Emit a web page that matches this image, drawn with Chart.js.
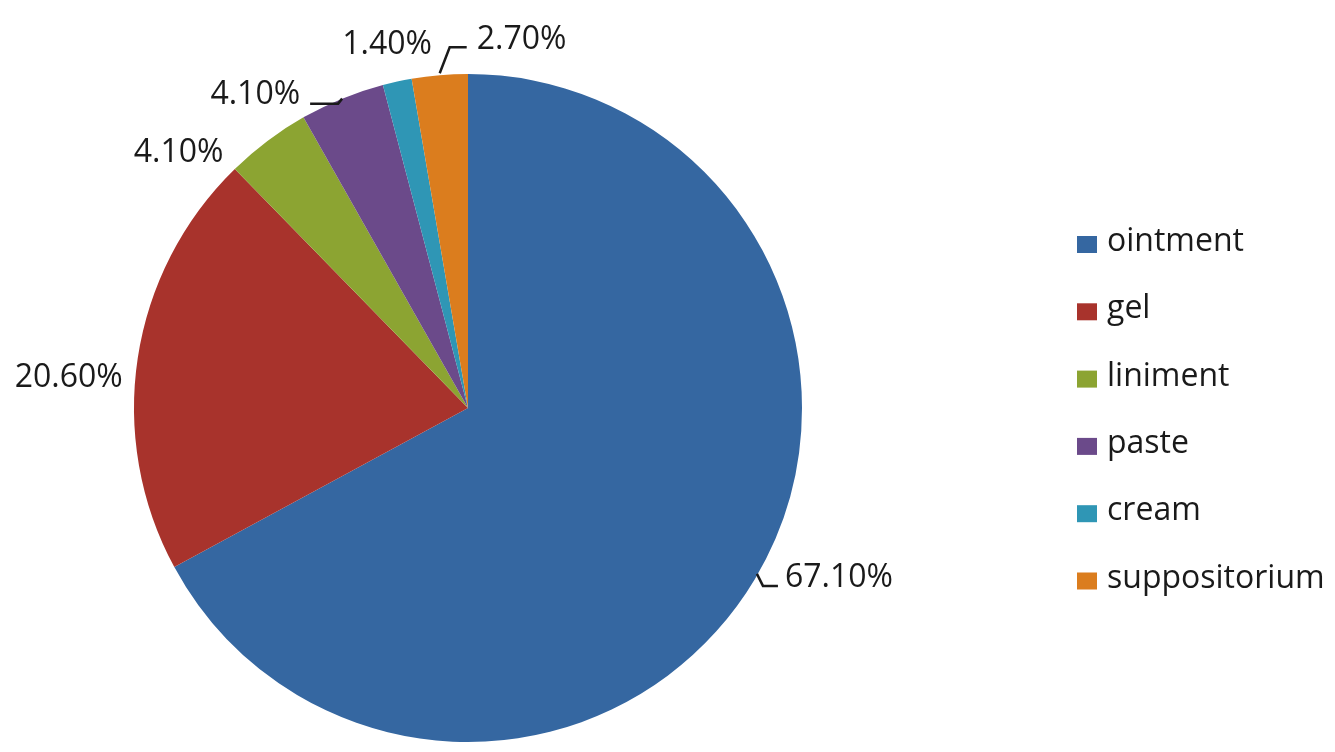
<!DOCTYPE html>
<html>
<head>
<meta charset="utf-8">
<script src="https://cdn.jsdelivr.net/npm/chart.js@4/dist/chart.umd.min.js"></script>
<style>
  html, body { margin: 0; padding: 0; background: #ffffff; }
  #wrap { position: relative; width: 1335px; height: 752px; }
</style>
</head>
<body>
<div id="wrap"><canvas id="c" width="1335" height="752"></canvas></div>
<script>
// ---- data ----
const categories = ['ointment', 'gel', 'liniment', 'paste', 'cream', 'suppositorium'];
const shares = [67.1, 20.6, 4.1, 4.1, 1.4, 2.7];
const valueLabels = ['67.10%', '20.60%', '4.10%', '4.10%', '1.40%', '2.70%'];

// ---- styles ----
const sliceColors = ['#3567A1', '#A8332C', '#8CA432', '#6B4A8A', '#2F96B5', '#DB7D1E'];
const textColor = '#1a1a1a';
const fontFamily = '"Open Sans", "Noto Sans", sans-serif';
// label placement relative to each slice's outer mid-point: dx, dy (baseline), align, leader (relative points)
const labelStyle = [
  { dx: 30, dy: 8, align: 'left', leader: [[2, -5], [8, 7], [23, 7]] },
  { dx: -15, dy: 29, align: 'right', leader: null },
  { dx: -44, dy: 21, align: 'right', leader: null },
  { dx: -42, dy: 5, align: 'right', leader: [[0, 0], [-4, 5], [-32, 5]] },
  { dx: -55, dy: -28, align: 'left', leader: null },
  { dx: 37, dy: -26, align: 'left', leader: [[0, -2], [10, -28], [27, -28]] }
];

const labelPlugin = {
  id: 'sliceLabels',
  afterDatasetsDraw(chart) {
    const ctx = chart.ctx;
    const meta = chart.getDatasetMeta(0);
    ctx.save();
    ctx.font = '32px ' + fontFamily;
    ctx.fillStyle = textColor;
    ctx.strokeStyle = textColor;
    ctx.lineWidth = 2.5;
    ctx.textBaseline = 'alphabetic';
    meta.data.forEach((arc, i) => {
      const p = arc.getProps(['x', 'y', 'startAngle', 'endAngle', 'outerRadius'], true);
      const mid = (p.startAngle + p.endAngle) / 2;
      const ox = p.x + Math.cos(mid) * p.outerRadius;
      const oy = p.y + Math.sin(mid) * p.outerRadius;
      const s = labelStyle[i];
      if (s.leader) {
        ctx.beginPath();
        s.leader.forEach((pt, k) => {
          if (k === 0) ctx.moveTo(ox + pt[0], oy + pt[1]);
          else ctx.lineTo(ox + pt[0], oy + pt[1]);
        });
        ctx.stroke();
      }
      ctx.textAlign = s.align;
      ctx.fillText(valueLabels[i], ox + s.dx, oy + s.dy);
    });
    ctx.restore();
  }
};

const legendPlugin = {
  id: 'sideLegend',
  afterDraw(chart) {
    const ctx = chart.ctx;
    ctx.save();
    ctx.font = '32px ' + fontFamily;
    ctx.fillStyle = textColor;
    ctx.textAlign = 'left';
    ctx.textBaseline = 'alphabetic';
    const x0 = 1077, top0 = 236, step = 67.3;
    chart.data.labels.forEach((lab, i) => {
      const y = top0 + i * step;
      ctx.fillStyle = chart.data.datasets[0].backgroundColor[i];
      ctx.fillRect(x0, y, 20, 17);
      ctx.fillStyle = textColor;
      ctx.fillText(lab, x0 + 30, y + 15);
    });
    ctx.restore();
  }
};

new Chart(document.getElementById('c'), {
  type: 'pie',
  data: {
    labels: categories,
    datasets: [{
      data: shares,
      backgroundColor: sliceColors,
      borderWidth: 0
    }]
  },
  options: {
    responsive: false,
    animation: false,
    layout: { padding: { left: 134, right: 533, top: 74, bottom: 10 } },
    plugins: {
      legend: { display: false },
      tooltip: { enabled: false }
    }
  },
  plugins: [labelPlugin, legendPlugin]
});
</script>
</body>
</html>
